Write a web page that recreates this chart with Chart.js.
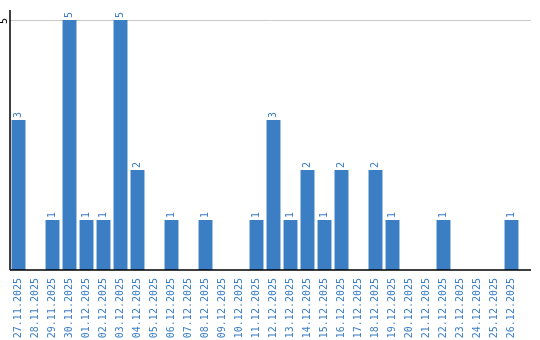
<!DOCTYPE html>
<html>
<head>
<meta charset="utf-8">
<script src="https://cdn.jsdelivr.net/npm/chart.js@4"></script>
<style>
  html, body { margin: 0; padding: 0; background: #fff; }
  #wrap { width: 540px; height: 340px; }
</style>
</head>
<body>
<div id="wrap"><canvas id="chart" width="540" height="340"></canvas></div>
<script>
const days = ['27.11.2025', '28.11.2025', '29.11.2025', '30.11.2025', '01.12.2025', '02.12.2025',
    '03.12.2025', '04.12.2025', '05.12.2025', '06.12.2025', '07.12.2025', '08.12.2025',
    '09.12.2025', '10.12.2025', '11.12.2025', '12.12.2025', '13.12.2025', '14.12.2025',
    '15.12.2025', '16.12.2025', '17.12.2025', '18.12.2025', '19.12.2025', '20.12.2025',
    '21.12.2025', '22.12.2025', '23.12.2025', '24.12.2025', '25.12.2025', '26.12.2025'];
const counts = [3, 0, 1, 5, 1, 1, 5, 2, 0, 1, 0, 1, 0, 0, 1, 3, 1, 2, 1, 2, 0, 2, 1, 0, 0, 1, 0, 0, 0, 1];
const yTicks = [5];

const blue = '#3b7ec4';
const font = "'DejaVu Sans Mono', monospace";
const axisEnd = 531; // axis + gridline run a bit past the last category

// grid line and x axis drawn by hand so they can run past the chart area
const axesPlugin = {
    id: 'axes',
    beforeDatasetsDraw(chart) {
        const ctx = chart.ctx;
        const y = chart.scales.y;
        const area = chart.chartArea;
        ctx.save();
        ctx.strokeStyle = '#c8c8c8';
        ctx.lineWidth = 1;
        yTicks.forEach(v => {
            const py = Math.round(y.getPixelForValue(v)) + 0.5;
            ctx.beginPath();
            ctx.moveTo(area.left, py);
            ctx.lineTo(axisEnd, py);
            ctx.stroke();
        });
        ctx.restore();
    },
    afterDatasetsDraw(chart) {
        const ctx = chart.ctx;
        const area = chart.chartArea;
        ctx.save();
        ctx.strokeStyle = '#000';
        ctx.lineWidth = 1.5;
        ctx.beginPath();
        ctx.moveTo(area.left, area.bottom);
        ctx.lineTo(axisEnd, area.bottom);
        ctx.moveTo(area.left, area.bottom);
        ctx.lineTo(area.left, area.top);
        ctx.stroke();

        // value labels above bars
        const meta = chart.getDatasetMeta(0);
        ctx.fillStyle = blue;
        ctx.font = '10px ' + font;
        ctx.textBaseline = 'middle';
        ctx.textAlign = 'left';
        meta.data.forEach((bar, i) => {
            if (!counts[i]) return;
            ctx.save();
            ctx.translate(bar.x, bar.y - 2);
            ctx.rotate(-Math.PI / 2);
            ctx.fillText(String(counts[i]), 0, 0);
            ctx.restore();
        });

        // rotated y tick label
        const y = chart.scales.y;
        ctx.fillStyle = '#000';
        ctx.textAlign = 'center';
        yTicks.forEach(v => {
            ctx.save();
            ctx.translate(4, y.getPixelForValue(v) + 1);
            ctx.rotate(-Math.PI / 2);
            ctx.fillText(String(v), 0, 0);
            ctx.restore();
        });
        ctx.restore();
    }
};

new Chart(document.getElementById('chart'), {
    type: 'bar',
    data: {
        labels: days,
        datasets: [{
            data: counts,
            backgroundColor: blue,
            barPercentage: 0.82,
            categoryPercentage: 1
        }]
    },
    options: {
        responsive: false,
        animation: false,
        layout: { padding: { top: 10, right: 20 } },
        plugins: { legend: { display: false }, tooltip: { enabled: false } },
        scales: {
            x: {
                grid: { display: false },
                border: { display: false },
                ticks: {
                    color: blue,
                    font: { family: font, size: 10 },
                    minRotation: 90,
                    maxRotation: 90,
                    autoSkip: false,
                    padding: 0
                },
                afterFit: (axis) => { axis.height = 70; }
            },
            y: {
                min: 0,
                max: 5.2,
                afterBuildTicks: (axis) => { axis.ticks = yTicks.map(v => ({ value: v })); },
                ticks: { display: false },
                grid: { display: false },
                border: { display: false },
                afterFit: (axis) => { axis.width = 10; }
            }
        }
    },
    plugins: [axesPlugin]
});
</script>
</body>
</html>
